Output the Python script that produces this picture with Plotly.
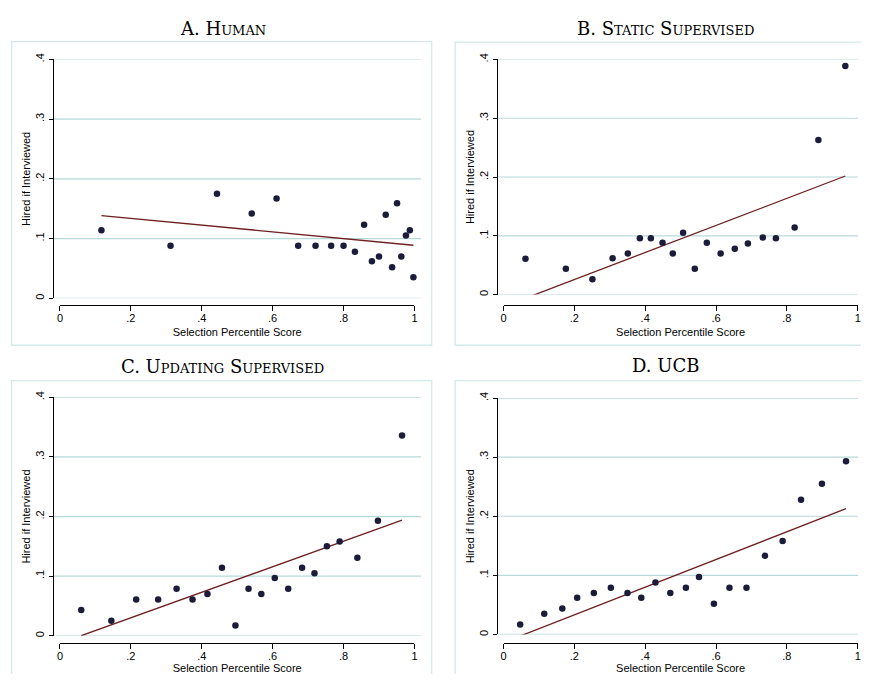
import numpy as np
import plotly.graph_objects as go

# ---------------- data ----------------
panel_titles = ["A. Human", "B. Static Supervised", "C. Updating Supervised", "D. UCB"]

human_x = [0.117, 0.312, 0.443, 0.541, 0.611, 0.672, 0.721, 0.765, 0.800, 0.832,
           0.858, 0.880, 0.900, 0.919, 0.937, 0.951, 0.963, 0.976, 0.987, 0.997]
human_y = [0.114, 0.088, 0.175, 0.142, 0.167, 0.088, 0.088, 0.088, 0.088, 0.078,
           0.123, 0.062, 0.070, 0.140, 0.052, 0.159, 0.070, 0.105, 0.114, 0.035]
human_fit = [0.1451, -0.0565]   # intercept, slope

static_x = [0.062, 0.176, 0.251, 0.308, 0.351, 0.385, 0.416, 0.449, 0.478, 0.507,
            0.540, 0.574, 0.613, 0.653, 0.690, 0.732, 0.769, 0.822, 0.889, 0.965]
static_y = [0.061, 0.044, 0.026, 0.062, 0.070, 0.096, 0.096, 0.088, 0.070, 0.105,
            0.044, 0.088, 0.070, 0.078, 0.087, 0.097, 0.096, 0.114, 0.263, 0.389]
static_fit = [-0.0205, 0.2303]

updating_x = [0.060, 0.145, 0.215, 0.277, 0.329, 0.374, 0.416, 0.457, 0.495, 0.532,
              0.568, 0.606, 0.644, 0.683, 0.718, 0.753, 0.789, 0.839, 0.897, 0.965]
updating_y = [0.043, 0.025, 0.061, 0.061, 0.079, 0.061, 0.070, 0.114, 0.017, 0.079,
              0.070, 0.097, 0.079, 0.114, 0.105, 0.150, 0.158, 0.131, 0.193, 0.336]
updating_fit = [-0.0128, 0.2143]

ucb_x = [0.047, 0.115, 0.166, 0.208, 0.255, 0.303, 0.350, 0.389, 0.429, 0.471,
         0.515, 0.552, 0.594, 0.638, 0.686, 0.738, 0.788, 0.840, 0.899, 0.967]
ucb_y = [0.017, 0.035, 0.044, 0.062, 0.070, 0.079, 0.070, 0.062, 0.088, 0.070,
         0.079, 0.097, 0.052, 0.079, 0.079, 0.133, 0.158, 0.228, 0.255, 0.293]
ucb_fit = [-0.0137, 0.2343]

x_tick_vals = [0, 0.2, 0.4, 0.6, 0.8, 1]
x_tick_text = ["0", ".2", ".4", ".6", ".8", "1"]
y_tick_vals = [0, 0.1, 0.2, 0.3, 0.4]
y_tick_text = ["0", ".1", ".2", ".3", ".4"]

series = [(human_x, human_y, human_fit), (static_x, static_y, static_fit),
          (updating_x, updating_y, updating_fit), (ucb_x, ucb_y, ucb_fit)]

# ---------------- layout geometry (window pixels) ----------------
OX, OY = 8, 8            # page body margin on every side
W, H = 869 - 2 * OX, 682 - 2 * OY


def px(v):
    return (v - OX) / W


def py(v):
    return 1 - (v - OY) / H


geo = [
    dict(pl=50, pr=421, x0=57.3, x1=414.3, y0=295.7, y4=54, axl=302.7,
         frame=(8.6, 36, 431.7, 343.3), title=(221, 23)),
    dict(pl=497.3, pr=869, x0=504, x1=860.7, y0=292, y4=54, axl=302.7,
         frame=(455.3, 36.5, 880, 343.3), title=(667, 23)),
    dict(pl=50, pr=421, x0=57.3, x1=414.3, y0=637.3, y4=396, axl=644.3,
         frame=(8.6, 379, 431.7, 700), title=(221, 365)),
    dict(pl=497.3, pr=869, x0=504, x1=860.7, y0=636, y4=396.7, axl=644.3,
         frame=(455.3, 379, 880, 700), title=(667, 364)),
]

MARKER = "#1b1b3a"
FIT = "#6e1f1f"
GRID = "#b8d9d9"
FRAME = "#d4e9e9"
SANS = "Liberation Sans, Arial, sans-serif"
SERIF = "DejaVu Serif, Liberation Serif, serif"

fig = go.Figure()
layout = {}
shapes = []
annotations = []

for i, ((xs, ys, fit), g) in enumerate(zip(series, geo)):
    k = i + 1
    xname = "x" if k == 1 else f"x{k}"
    yname = "y" if k == 1 else f"y{k}"
    xa = "xaxis" if k == 1 else f"xaxis{k}"
    ya = "yaxis" if k == 1 else f"yaxis{k}"

    layout[xa] = dict(domain=[px(g["x0"]), px(g["x1"])], range=[0, 1],
                      anchor="free", position=py(g["axl"]),
                      showline=True, linecolor="black", linewidth=1,
                      showgrid=False, zeroline=False,
                      ticks="outside", ticklen=5, tickcolor="black", tickwidth=1,
                      ticklabelstandoff=-2,
                      tickvals=x_tick_vals, ticktext=x_tick_text,
                      tickfont=dict(family=SANS, size=11, color="black"),
                      title=dict(text="Selection Percentile Score", standoff=4,
                                 font=dict(family=SANS, size=11, color="black")))
    layout[ya] = dict(domain=[py(g["y0"]), py(g["y4"])], range=[0, 0.4],
                      anchor="free", position=px(g["pl"]),
                      showline=True, linecolor="black", linewidth=1,
                      showgrid=False, zeroline=False,
                      ticks="outside", ticklen=4, tickcolor="black", tickwidth=1,
                      tickvals=y_tick_vals, ticktext=y_tick_text, tickangle=-90,
                      tickfont=dict(family=SANS, size=11, color="black"),
                      title=dict(text="Hired if Interviewed", standoff=0,
                                 font=dict(family=SANS, size=11, color="black")))

    # horizontal grid lines spanning the whole plot region (Stata style)
    for tv in y_tick_vals:
        shapes.append(dict(type="line", xref="paper", yref=yname,
                           x0=px(g["pl"]), x1=min(1.0, px(g["pr"])), y0=tv, y1=tv,
                           line=dict(color=GRID, width=1.2), layer="below"))

    xs_a = np.array(xs)
    fx = np.array([xs_a.min(), xs_a.max()])
    fy = fit[0] + fit[1] * fx
    fig.add_trace(go.Scatter(x=fx, y=fy, mode="lines", xaxis=xname, yaxis=yname,
                             line=dict(color=FIT, width=1.3), showlegend=False,
                             cliponaxis=False, hoverinfo="skip"))
    fig.add_trace(go.Scatter(x=xs, y=ys, mode="markers", xaxis=xname, yaxis=yname,
                             marker=dict(color=MARKER, size=6.5), showlegend=False,
                             cliponaxis=False))

    l, t, r, b = g["frame"]
    shapes.append(dict(type="rect", xref="paper", yref="paper",
                       x0=px(l), x1=px(r), y0=py(b), y1=py(t),
                       line=dict(color=FRAME, width=1.3), layer="below"))
    annotations.append(dict(text=panel_titles[i], xref="paper", yref="paper",
                            x=px(g["title"][0]), y=py(g["title"][1]),
                            xanchor="center", yanchor="middle", showarrow=False,
                            font=dict(family=SERIF, size=18, color="black",
                                      variant="small-caps")))

fig.update_layout(width=W, height=H, margin=dict(l=0, r=0, t=0, b=0),
                  paper_bgcolor="white", plot_bgcolor="rgba(0,0,0,0)",
                  shapes=shapes, annotations=annotations, showlegend=False,
                  **layout)

fig.write_html("out.html")
